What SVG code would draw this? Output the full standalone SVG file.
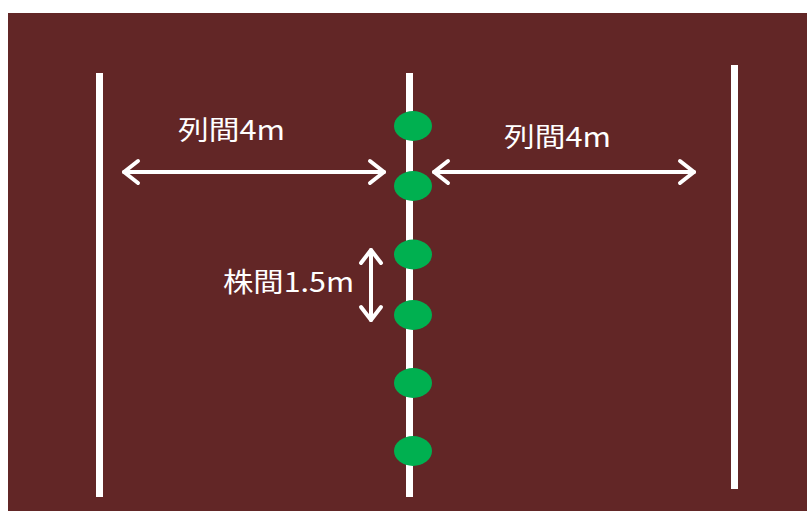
<svg xmlns="http://www.w3.org/2000/svg" width="807" height="511" viewBox="0 0 807 511">
<defs>
<style>
.row{fill:#ffffff}
.plant{fill:#00b050}
.arr{stroke:#ffffff;stroke-width:4;fill:none;stroke-linecap:round;stroke-linejoin:round}
.lbl{fill:#ffffff;font-family:"Noto Sans CJK JP","Noto Sans",sans-serif;font-size:27px}
</style>
</defs>
<rect x="0" y="0" width="807" height="511" fill="#ffffff"/>
<rect id="field" x="8" y="13" width="799" height="498" fill="#622626"/>
<g id="rows">
<rect id="row-left" class="row" x="96" y="73" width="7" height="424"/>
<rect id="row-middle" class="row" x="406" y="73" width="7" height="424"/>
<rect id="row-right" class="row" x="731" y="65" width="7" height="424"/>
</g>
<g id="plants">
<ellipse id="plant1" class="plant" cx="413" cy="126" rx="19" ry="15"/>
<ellipse id="plant2" class="plant" cx="413" cy="186" rx="19" ry="15"/>
<ellipse id="plant3" class="plant" cx="413" cy="254.5" rx="19" ry="15"/>
<ellipse id="plant4" class="plant" cx="413" cy="315" rx="19" ry="15"/>
<ellipse id="plant5" class="plant" cx="413" cy="383" rx="19" ry="15"/>
<ellipse id="plant6" class="plant" cx="413" cy="451" rx="19" ry="15"/>
</g>
<g id="connectors">
<g id="arrow-left">
<line class="arr" x1="124" y1="172" x2="384" y2="172"/>
<polyline class="arr" points="138,161 124,172 138,183"/>
<polyline class="arr" points="370,161 384,172 370,183"/>
</g>
<g id="arrow-right">
<line class="arr" x1="434" y1="172" x2="694" y2="172"/>
<polyline class="arr" points="448,161 434,172 448,183"/>
<polyline class="arr" points="680,161 694,172 680,183"/>
</g>
<g id="arrow-vertical">
<line class="arr" x1="371" y1="250" x2="371" y2="320"/>
<polyline class="arr" points="361,263 371,250 381,263"/>
<polyline class="arr" points="361,307 371,320 381,307"/>
</g>
</g>
<g id="labels">
<text id="label-left" class="lbl" x="178" y="140" textLength="107" lengthAdjust="spacingAndGlyphs">列間4m</text>
<text id="label-right" class="lbl" x="504" y="147" textLength="107" lengthAdjust="spacingAndGlyphs">列間4m</text>
<text id="label-plant" class="lbl" x="223" y="292" textLength="131" lengthAdjust="spacingAndGlyphs">株間1.5m</text>
</g>
</svg>
